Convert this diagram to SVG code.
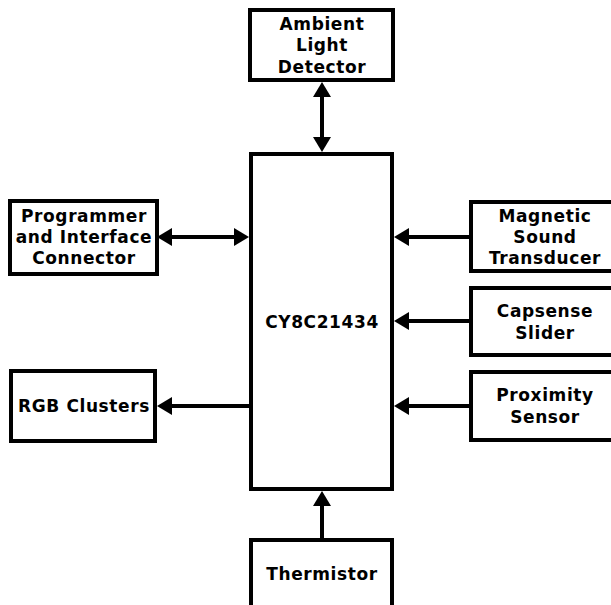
<svg xmlns="http://www.w3.org/2000/svg" width="611" height="605" viewBox="0 0 611 605">
<style>
.box{fill:#fff;stroke:#000;stroke-width:4}
.lbl{font-family:"DejaVu Sans","Verdana",sans-serif;font-weight:bold;font-size:17px;letter-spacing:0.6px;text-anchor:middle;fill:#000}
.wire{stroke:#000;stroke-width:4;fill:none}
</style>
<defs>
<marker id="ah" markerUnits="userSpaceOnUse" markerWidth="16" markerHeight="18" viewBox="0 0 16 18" refX="11" refY="9" orient="auto-start-reverse">
<path d="M0,0 L15,9 L0,18 z" fill="#000"/>
</marker>
</defs>
<rect width="611" height="605" fill="#fff"/>
<g id="connectors">
<line class="wire" x1="322" y1="86" x2="322" y2="148" marker-start="url(#ah)" marker-end="url(#ah)"/>
<line class="wire" x1="161" y1="237" x2="245" y2="237" marker-start="url(#ah)" marker-end="url(#ah)"/>
<line class="wire" x1="469" y1="237" x2="398" y2="237" marker-end="url(#ah)"/>
<line class="wire" x1="469" y1="321" x2="398" y2="321" marker-end="url(#ah)"/>
<line class="wire" x1="469" y1="406" x2="398" y2="406" marker-end="url(#ah)"/>
<line class="wire" x1="249" y1="406" x2="161" y2="406" marker-end="url(#ah)"/>
<line class="wire" x1="322" y1="538" x2="322" y2="495" marker-end="url(#ah)"/>
</g>
<g id="ambient">
<rect class="box" x="250" y="10" width="143" height="70"/>
<text class="lbl" x="322" y="30">Ambient</text>
<text class="lbl" x="322" y="51">Light</text>
<text class="lbl" x="322" y="73">Detector</text>
</g>
<g id="mcu">
<rect class="box" x="251" y="154" width="141" height="335"/>
<text class="lbl" x="322" y="328">CY8C21434</text>
</g>
<g id="programmer">
<rect class="box" x="10" y="201" width="147" height="73"/>
<text class="lbl" x="84" y="222">Programmer</text>
<text class="lbl" x="84" y="243">and Interface</text>
<text class="lbl" x="84" y="264">Connector</text>
</g>
<g id="rgb">
<rect class="box" x="11" y="371" width="144" height="70"/>
<text class="lbl" x="84" y="412">RGB Clusters</text>
</g>
<g id="magnetic">
<rect class="box" x="471" y="202" width="150" height="69"/>
<text class="lbl" x="545" y="222">Magnetic</text>
<text class="lbl" x="545" y="243">Sound</text>
<text class="lbl" x="545" y="264">Transducer</text>
</g>
<g id="capsense">
<rect class="box" x="471" y="288" width="150" height="67"/>
<text class="lbl" x="545" y="317">Capsense</text>
<text class="lbl" x="545" y="339">Slider</text>
</g>
<g id="proximity">
<rect class="box" x="471" y="372" width="150" height="68"/>
<text class="lbl" x="545" y="401">Proximity</text>
<text class="lbl" x="545" y="423">Sensor</text>
</g>
<g id="thermistor">
<rect class="box" x="251" y="540" width="141" height="80"/>
<text class="lbl" x="322" y="580">Thermistor</text>
</g>
</svg>
